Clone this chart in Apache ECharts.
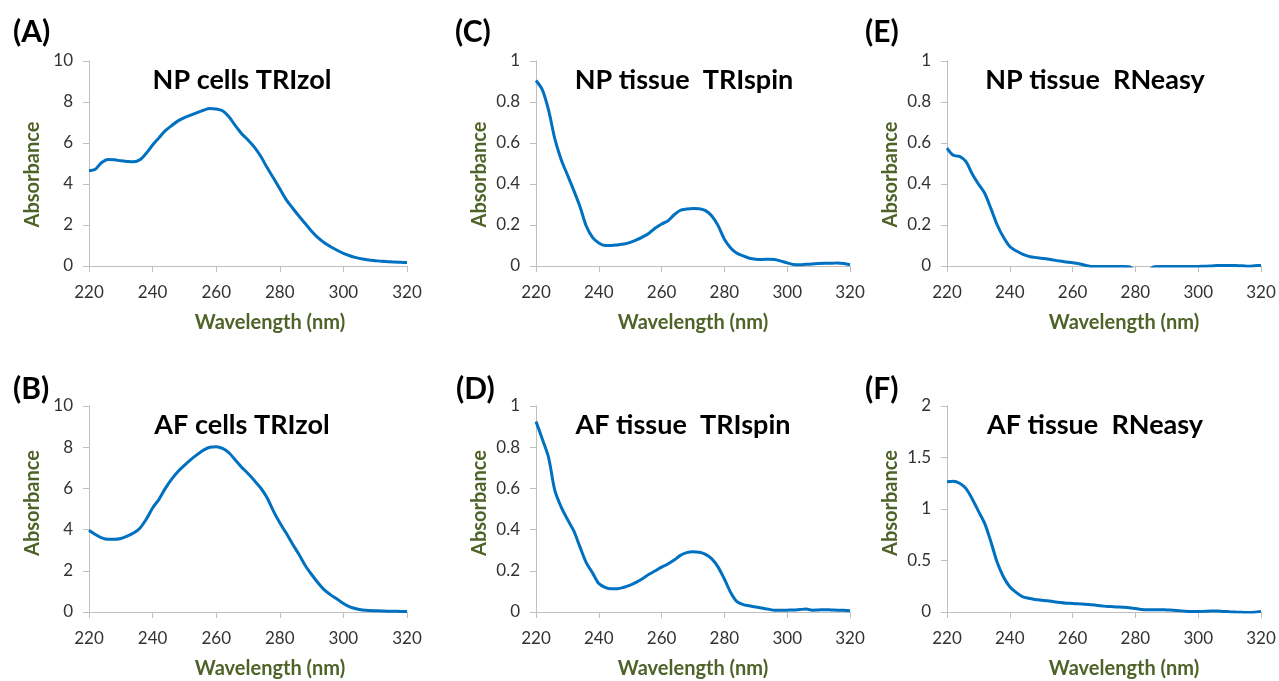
<!DOCTYPE html>
<html>
<head>
<meta charset="utf-8">
<script src="https://cdn.jsdelivr.net/npm/echarts@6/dist/echarts.min.js"></script>
<style>html,body{margin:0;padding:0;background:#fff;}#c{width:1279px;height:681px;}</style>
</head>
<body>
<div id="c"></div>
<script>
// Wavelength grid (nm), every 2 nm
const wavelengths = [220,222,224,226,228,230,232,234,236,238,240,242,244,246,248,250,252,254,256,258,260,262,264,266,268,270,272,274,276,278,280,282,284,286,288,290,292,294,296,298,300,302,304,306,308,310,312,314,316,318,320];
const xTicks = [220,240,260,280,300,320];

const panelLabels = ['(A)','(B)','(C)','(D)','(E)','(F)'];
const panelTitles = ['NP cells TRIzol','AF cells TRIzol','NP tissue  TRIspin','AF tissue  TRIspin','NP tissue  RNeasy','AF tissue  RNeasy'];

// (A) NP cells TRIzol
const npCellsTrizol = [4.65,4.72,5.05,5.2,5.18,5.13,5.1,5.08,5.18,5.5,5.9,6.25,6.6,6.85,7.08,7.24,7.36,7.48,7.6,7.68,7.66,7.57,7.28,6.85,6.45,6.15,5.8,5.35,4.8,4.29,3.77,3.24,2.83,2.44,2.07,1.7,1.38,1.13,0.94,0.77,0.62,0.5,0.41,0.34,0.29,0.26,0.23,0.21,0.19,0.18,0.17];
// (B) AF cells TRIzol
const afCellsTrizol = [3.97,3.76,3.6,3.53,3.53,3.57,3.68,3.83,4.07,4.5,5.05,5.47,6.0,6.45,6.82,7.12,7.4,7.64,7.86,8.0,8.02,7.94,7.73,7.38,7.03,6.72,6.38,6.02,5.55,4.9,4.33,3.83,3.3,2.8,2.26,1.82,1.42,1.07,0.83,0.63,0.41,0.25,0.16,0.1,0.07,0.06,0.05,0.04,0.04,0.03,0.03];
// (C) NP tissue TRIspin
const npTissueTrispin = [0.905,0.86,0.76,0.62,0.52,0.445,0.37,0.29,0.195,0.14,0.112,0.1,0.1,0.103,0.107,0.115,0.127,0.142,0.16,0.185,0.205,0.22,0.25,0.272,0.278,0.281,0.279,0.27,0.244,0.197,0.13,0.088,0.062,0.049,0.038,0.033,0.032,0.033,0.032,0.024,0.015,0.007,0.006,0.008,0.01,0.012,0.013,0.013,0.015,0.012,0.006];
// (D) AF tissue TRIspin
const afTissueTrispin = [0.925,0.84,0.75,0.59,0.51,0.45,0.395,0.316,0.24,0.19,0.138,0.12,0.113,0.113,0.12,0.13,0.145,0.163,0.183,0.2,0.218,0.233,0.252,0.275,0.288,0.292,0.29,0.28,0.258,0.218,0.16,0.095,0.05,0.036,0.03,0.024,0.019,0.014,0.008,0.008,0.009,0.01,0.012,0.014,0.009,0.01,0.011,0.01,0.009,0.008,0.006];
// (E) NP tissue RNeasy
const npTissueRneasy = [0.575,0.54,0.535,0.51,0.45,0.4,0.355,0.28,0.2,0.14,0.095,0.074,0.058,0.047,0.042,0.038,0.034,0.029,0.024,0.02,0.016,0.011,0.004,-0.002,-0.002,-0.002,-0.002,-0.003,-0.003,-0.004,-0.02,-0.02,-0.02,-0.004,-0.003,-0.003,-0.003,-0.003,-0.003,-0.002,-0.002,-0.001,0,0.002,0.003,0.003,0.002,0.001,-0.001,0.001,0.003];
// (F) AF tissue RNeasy
const afTissueRneasy = [1.265,1.27,1.25,1.2,1.1,0.98,0.86,0.68,0.48,0.34,0.245,0.19,0.15,0.133,0.122,0.115,0.109,0.1,0.092,0.086,0.083,0.079,0.075,0.07,0.064,0.057,0.053,0.049,0.046,0.042,0.033,0.025,0.023,0.023,0.023,0.02,0.017,0.013,0.008,0.006,0.006,0.007,0.009,0.01,0.006,0.002,-0.001,-0.003,-0.005,-0.002,0.006];

// Y axis scales per panel
const yMax = [10,10,1,1,1,2];
const yInterval = [2,2,0.2,0.2,0.2,0.5];

const seriesData = [npCellsTrizol, afCellsTrizol, npTissueTrispin, afTissueTrispin, npTissueRneasy, afTissueRneasy];

// layout: order A,B,C,D,E,F (column-major)
const gridBoxes = [
  {left:89, top:61, width:318, height:205},
  {left:89, top:406, width:318, height:206},
  {left:536, top:61, width:314, height:205},
  {left:536, top:406, width:314, height:206},
  {left:947, top:61, width:314, height:205},
  {left:947, top:406, width:314, height:206}
];
const xNamePad = [[0,0,0,44],[0,0,0,44],[0,0,0,0],[0,0,0,0],[0,0,0,40],[0,0,0,40]];
const yNamePad = [[0,22,0,0],[0,0,0,12],[0,22,0,0],[0,0,0,12],[0,22,0,0],[0,0,0,12]];
const titlePos = [[237,62],[237,407],[679,62],[678,407],[1090,62],[1090,407]];
const labelPos = [[8,12],[8,369],[450,12],[451,369],[860,12],[860,369]];

const green = '#4F6228';
const axisGray = '#BFBFBF';
const txt = '#333333';
const FF = 'Lato, "Open Sans", sans-serif';

const grids = [], xAxes = [], yAxes = [], series = [], titles = [];
for (let i = 0; i < 6; i++) {
  grids.push(Object.assign({containLabel:false}, gridBoxes[i]));
  xAxes.push({
    type:'value', gridIndex:i, min:220, max:320, interval:20,
    name:'Wavelength (nm)', nameLocation:'middle', nameGap:47,
    nameTextStyle:{color:green, fontWeight:'bold', fontSize:20, fontFamily:FF, padding:xNamePad[i]},
    axisLine:{onZero:false, lineStyle:{color:axisGray, width:1}},
    axisTick:{show:true, length:6, lineStyle:{color:axisGray}},
    axisLabel:{color:txt, fontSize:17, fontFamily:FF, margin:18,
      formatter: v => xTicks.indexOf(v) >= 0 ? String(v) : ''},
    splitLine:{show:false}
  });
  yAxes.push({
    type:'value', gridIndex:i, min:0, max:yMax[i], interval:yInterval[i],
    name:'Absorbance', nameLocation:'middle', nameGap:46, nameRotate:90,
    nameTextStyle:{color:green, fontWeight:'bold', fontSize:20, fontFamily:FF, padding:yNamePad[i]},
    axisLine:{show:true, lineStyle:{color:axisGray, width:1}},
    axisTick:{show:true, length:6, lineStyle:{color:axisGray}},
    axisLabel:{color:txt, fontSize:17, fontFamily:FF, margin:16},
    splitLine:{show:false}
  });
  series.push({
    type:'line', xAxisIndex:i, yAxisIndex:i, showSymbol:false, smooth:0.3,
    clip:true, lineStyle:{color:'#0070C0', width:3}, itemStyle:{color:'#0070C0'},
    data: wavelengths.map((w, k) => [w, seriesData[i][k]])
  });
  titles.push({
    text: panelTitles[i], left: titlePos[i][0], top: titlePos[i][1], textAlign:'center',
    textStyle:{fontSize:27, fontWeight:'bold', color:'#000', fontFamily:FF}
  });
  titles.push({
    text: panelLabels[i], left: labelPos[i][0], top: labelPos[i][1],
    textStyle:{fontSize:30, fontWeight:'bold', color:'#000', fontFamily:FF}
  });
}

const chart = echarts.init(document.getElementById('c'), null, {renderer:'canvas'});
chart.setOption({
  backgroundColor:'#fff',
  animation:false,
  title: titles,
  grid: grids,
  xAxis: xAxes,
  yAxis: yAxes,
  series: series
});
</script>
</body>
</html>
